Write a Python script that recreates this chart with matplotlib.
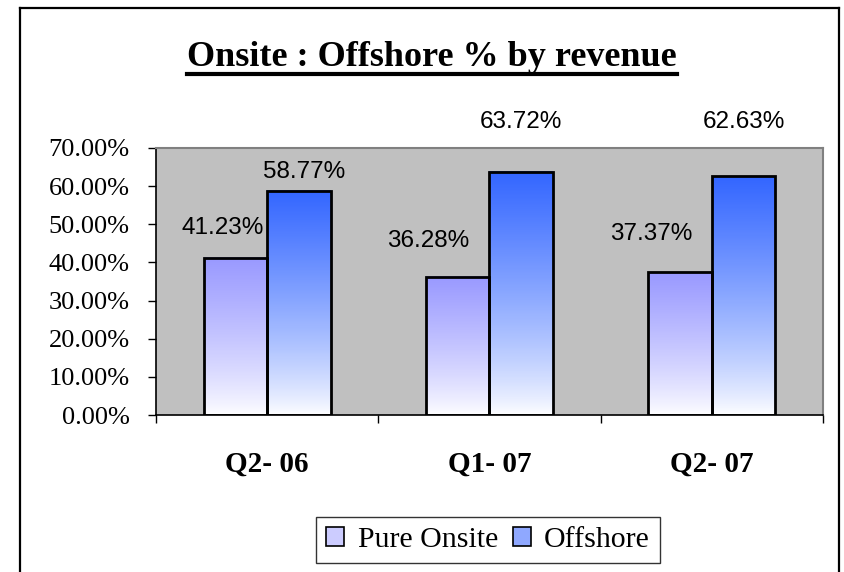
import numpy as np
import matplotlib
matplotlib.use("Agg")
import matplotlib.pyplot as plt
from matplotlib.colors import LinearSegmentedColormap
from matplotlib.lines import Line2D
from matplotlib.patches import Patch

# data
quarters = ["Q2- 06", "Q1- 07", "Q2- 07"]
series_names = ["Pure Onsite", "Offshore"]
pure_onsite = [41.23, 36.28, 37.37]
offshore = [58.77, 63.72, 62.63]
yticks = [0, 10, 20, 30, 40, 50, 60, 70]

# label offsets (pixels) from the top-centre of each bar, as placed in the original
onsite_label_off = [(-13, 30), (-30, 36), (-29, 38)]
offshore_label_off = [(5, 19), (0, 50), (0, 54)]

top_colors = ["#9999FF", "#3366FF"]
legend_colors = ["#CCCCFF", "#8FA8FF"]

fig = plt.figure(figsize=(8.44, 5.72), dpi=100)
W, H = 844, 572

# outer chart frame (left, top, right)
for xs, ys in [([20, 20], [8, 572]), ([20, 839], [8, 8]), ([839, 839], [8, 572])]:
    fig.add_artist(Line2D([x / W for x in xs], [1 - y / H for y in ys],
                          color="black", lw=1.6))

ax = fig.add_axes([156 / W, 1 - 415 / H, (823 - 156) / W, (415 - 148) / H])
ax.set_facecolor("#C0C0C0")

x = np.arange(len(quarters))
width = 0.285

for vals, offs, off_list, col in [(pure_onsite, -width / 2, onsite_label_off, top_colors[0]),
                                  (offshore, width / 2, offshore_label_off, top_colors[1])]:
    cmap = LinearSegmentedColormap.from_list("g", ["white", col])
    bars = ax.bar(x + offs, vals, width, facecolor="none", edgecolor="black",
                  linewidth=2, zorder=3)
    grad = (np.linspace(0, 1, 256) ** 0.8).reshape(-1, 1)
    for b in bars:
        x0 = b.get_x()
        h = b.get_height()
        ax.imshow(grad, cmap=cmap, origin="lower", aspect="auto",
                  extent=[x0, x0 + b.get_width(), 0, h], zorder=2)
    for b, v, (dx, dy) in zip(bars, vals, off_list):
        ax.annotate(f"{v:.2f}%", (b.get_x() + b.get_width() / 2, v),
                    xytext=(dx * 0.72, dy * 0.72), textcoords="offset points",
                    ha="center", va="center", fontsize=17.5,
                    family="Liberation Sans", annotation_clip=False, zorder=4)

ax.set_xlim(-0.5, len(quarters) - 0.5)
ax.set_ylim(0, 70)

ax.set_yticks(yticks)
ax.set_yticklabels([f"{t:.2f}%" for t in yticks], family="Liberation Serif", fontsize=19)
ax.tick_params(axis="y", direction="out", length=6, width=1, pad=13, color="black")

ax.set_xticks(np.arange(len(quarters) + 1) - 0.5)
ax.set_xticklabels([])
ax.tick_params(axis="x", which="major", direction="out", length=6, width=1, color="black")
ax.set_xticks(x, minor=True)
ax.set_xticklabels(quarters, minor=True, family="Liberation Serif",
                   fontsize=21, fontweight="bold")
ax.tick_params(axis="x", which="minor", length=0, pad=26)

for s in ["top", "right"]:
    ax.spines[s].set_color("#808080")
    ax.spines[s].set_linewidth(1.5)
for s in ["left", "bottom"]:
    ax.spines[s].set_color("black")
    ax.spines[s].set_linewidth(1.2)

# title with underline
title = fig.text(432 / W, 1 - 66 / H, "Onsite : Offshore % by revenue",
                 ha="center", va="baseline", fontsize=26, fontweight="bold",
                 family="Liberation Serif")
fig.canvas.draw()
bb = title.get_window_extent()
fig.add_artist(Line2D([bb.x0 / W, bb.x1 / W], [1 - 74 / H, 1 - 74 / H],
                      color="black", lw=3))

handles = [Patch(facecolor=c, edgecolor="black", linewidth=1.2) for c in legend_colors]
leg = fig.legend(handles, series_names, loc="center",
                 bbox_to_anchor=(488 / W, 1 - 540 / H), ncol=2,
                 prop={"family": "Liberation Serif", "size": 21.5},
                 handlelength=0.6, handleheight=0.6, handletextpad=0.45,
                 columnspacing=0.5, borderpad=0.35, fancybox=False,
                 frameon=True, edgecolor="black")
leg.get_frame().set_linewidth(1)

fig.savefig("out.png", dpi=100)
